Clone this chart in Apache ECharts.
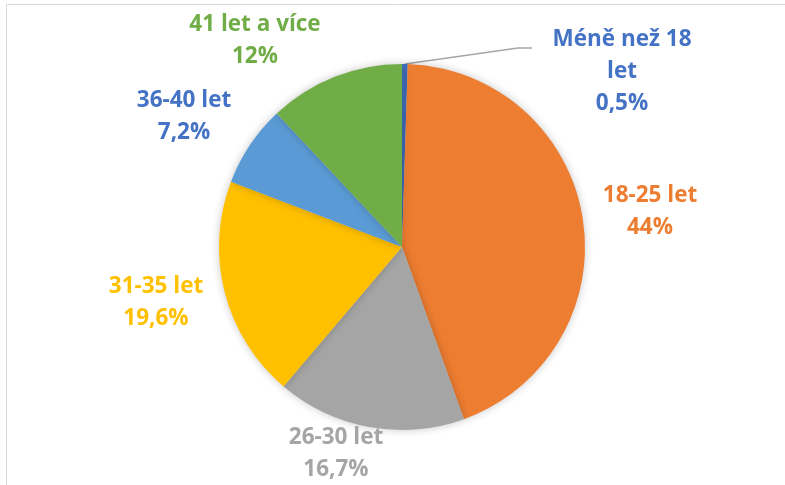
<!DOCTYPE html>
<html>
<head>
<meta charset="utf-8">
<script src="https://cdn.jsdelivr.net/npm/echarts@6/dist/echarts.min.js"></script>
<style>
  html, body { margin: 0; padding: 0; background: #fff; }
  #chart { width: 785px; height: 485px; }
</style>
</head>
<body>
<div id="chart"></div>
<script>
  // data
  const categories = ['Méně než 18 let', '18-25 let', '26-30 let', '31-35 let', '36-40 let', '41 let a více']
  const values = [0.5, 44, 16.7, 19.6, 7.2, 12]
  const colors = ['#4472C4', '#ED7D31', '#A5A5A5', '#FFC000', '#5B9BD5', '#70AD47']
  const textColors = ['#4472C4', '#ED7D31', '#A5A5A5', '#FFC000', '#4472C4', '#70AD47']

  // where each label sits (centre), like excel put them
  const labelPos = [[622, 72], [650, 212], [336, 454], [156, 303], [184, 117], [255, 41]]
  const lineH = 32

  let myChart = echarts.init(document.getElementById('chart'))

  let pieData = categories.map((name, i) => ({
    name: name,
    value: values[i],
    itemStyle: { color: colors[i] },
    label: { color: textColors[i] },
    labelLine: { show: i === 0 }
  }))

  let option = {
    backgroundColor: '#ffffff',
    animation: false,
    graphic: [
      {
        type: 'rect',
        shape: { x: 6.5, y: 4.5, width: 800, height: 500 },
        style: { fill: 'none', stroke: '#d9d9d9', lineWidth: 1 },
        silent: true
      }
    ],
    series: [
      {
        type: 'pie',
        center: [402, 247],
        radius: 183,
        startAngle: 90,
        clockwise: true,
        data: pieData,
        itemStyle: {
          shadowBlur: 8,
          shadowColor: 'rgba(0, 0, 0, 0.22)'
        },
        label: {
          position: 'outside',
          fontFamily: 'Open Sans',
          fontWeight: 'bold',
          fontSize: 22.5,
          lineHeight: lineH,
          align: 'center',
          formatter: function (p) {
            let name = p.name
            // long name wraps before the last word, as excel did
            if (name.length > 14) {
              let k = name.lastIndexOf(' ')
              name = name.slice(0, k) + '\n' + name.slice(k + 1)
            }
            return name + '\n' + String(p.value).replace('.', ',') + '%'
          }
        },
        labelLine: {
          lineStyle: { color: '#a6a6a6', width: 1.5 },
          smooth: false
        },
        labelLayout: function (params) {
          let pos = labelPos[params.dataIndex]
          let res = {
            x: pos[0],
            y: pos[1],
            align: 'center',
            verticalAlign: 'middle'
          }
          if (params.dataIndex === 0 && params.labelLinePoints) {
            let start = params.labelLinePoints[0]
            let left = pos[0] - 70
            let ly = pos[1] - lineH + 8
            res.labelLinePoints = [start, [left - 34, ly], [left - 20, ly]]
          }
          return res
        }
      }
    ]
  }

  myChart.setOption(option)
</script>
</body>
</html>
